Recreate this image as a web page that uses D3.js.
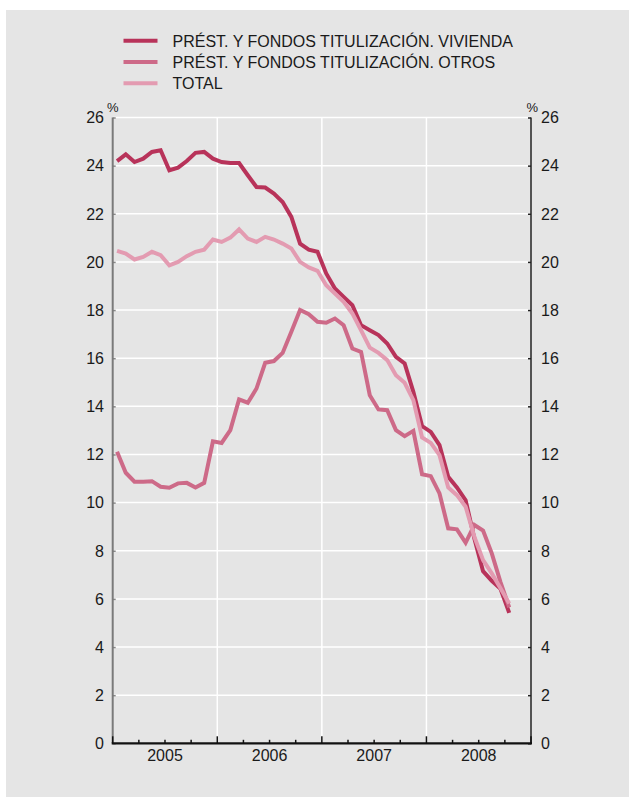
<!DOCTYPE html>
<html>
<head>
<meta charset="utf-8">
<script src="https://cdn.jsdelivr.net/npm/d3@7"></script>
<style>
  body { margin: 0; background: #fff; }
  text { font-family: "Liberation Sans", Arial, sans-serif; fill: #1a1a1a; }
</style>
</head>
<body>
<script>
let width = 629;
let height = 797;

// monthly data, Jan 2005 - Oct 2008
let years = ['2005', '2006', '2007', '2008'];
let vivienda = [24.19, 24.47, 24.15, 24.29, 24.57, 24.64, 23.81, 23.92, 24.19, 24.53, 24.57, 24.29,
  24.15, 24.11, 24.11, 23.6, 23.11, 23.09, 22.84, 22.49, 21.87, 20.76, 20.51, 20.42,
  19.52, 18.9, 18.55, 18.2, 17.37, 17.16, 16.96, 16.61, 16.06, 15.78, 14.6, 13.18,
  12.94, 12.39, 11.07, 10.63, 10.1, 8.51, 7.15, 6.75, 6.42, 5.42];
let otros = [12.11, 11.24, 10.87, 10.87, 10.89, 10.66, 10.62, 10.8, 10.82, 10.63, 10.82, 12.55,
  12.48, 13.01, 14.29, 14.15, 14.74, 15.81, 15.88, 16.22, 17.1, 18.0, 17.83, 17.51,
  17.47, 17.65, 17.37, 16.4, 16.26, 14.46, 13.87, 13.84, 13.01, 12.76, 12.98, 11.18,
  11.1, 10.38, 8.93, 8.89, 8.33, 9.07, 8.84, 7.89, 6.7, 5.65];
let total = [20.46, 20.35, 20.1, 20.21, 20.42, 20.28, 19.86, 20.0, 20.24, 20.42, 20.51, 20.93,
  20.83, 21.01, 21.35, 20.97, 20.83, 21.04, 20.93, 20.76, 20.56, 20.0, 19.77, 19.63,
  19.03, 18.69, 18.34, 17.86, 17.16, 16.44, 16.22, 15.92, 15.29, 14.98, 14.26, 12.71,
  12.48, 11.97, 10.63, 10.31, 9.83, 8.58, 7.61, 7.06, 6.44, 5.81];
let yTicks = [0, 2, 4, 6, 8, 10, 12, 14, 16, 18, 20, 22, 24, 26];
let seriesNames = ['PRÉST. Y FONDOS TITULIZACIÓN. VIVIENDA', 'PRÉST. Y FONDOS TITULIZACIÓN. OTROS', 'TOTAL'];
let seriesColors = ['#b8335a', '#cd6a88', '#e39bb1'];

let svg = d3.select('body').append('svg').attr('width', width).attr('height', height);

svg.append('rect').attr('x', 6).attr('y', 10).attr('width', width - 6).attr('height', height - 10).attr('fill', '#e5e5e5');

let plotLeft = 112.7, plotRight = 531, plotTop = 117.5, plotBottom = 743.3;
let xScale = d3.scaleLinear().domain([0, 48]).range([plotLeft, plotRight]);
let yScale = d3.scaleLinear().domain([0, 26]).range([plotBottom, plotTop]);

// grid
svg.append('g').selectAll('line').data(yTicks.slice(1)).enter().append('line')
  .attr('x1', plotLeft).attr('x2', plotRight).attr('y1', d => yScale(d)).attr('y2', d => yScale(d))
  .attr('stroke', '#fff').attr('stroke-width', 1.5);
svg.append('g').selectAll('line').data([12, 24, 36]).enter().append('line')
  .attr('x1', d => xScale(d)).attr('x2', d => xScale(d)).attr('y1', plotTop).attr('y2', plotBottom)
  .attr('stroke', '#fff').attr('stroke-width', 1.5);

// left axis
let leftAxis = d3.axisRight(yScale).tickValues(yTicks).tickSize(3).tickFormat('');
let la = svg.append('g').attr('transform', 'translate(' + plotLeft + ',0)').call(leftAxis);
la.select('.domain').remove();
la.selectAll('line').attr('stroke', '#888').attr('stroke-width', 1.5);
svg.append('line').attr('x1', plotLeft).attr('x2', plotLeft).attr('y1', plotTop).attr('y2', plotBottom).attr('stroke', '#7a7a7a').attr('stroke-width', 2);
svg.append('g').selectAll('text').data(yTicks).enter().append('text')
  .attr('x', 104).attr('y', d => yScale(d)).attr('dy', '0.36em').attr('text-anchor', 'end')
  .style('font-size', '16px').text(d => d);

// right axis
let rightAxis = d3.axisLeft(yScale).tickValues(yTicks).tickSize(3).tickFormat('');
let ra = svg.append('g').attr('transform', 'translate(' + plotRight + ',0)').call(rightAxis);
ra.select('.domain').remove();
ra.selectAll('line').attr('stroke', '#222').attr('stroke-width', 1.5);
svg.append('line').attr('x1', plotRight).attr('x2', plotRight).attr('y1', plotTop).attr('y2', plotBottom).attr('stroke', '#222').attr('stroke-width', 1.5);
svg.append('g').selectAll('text').data(yTicks).enter().append('text')
  .attr('x', 541).attr('y', d => yScale(d)).attr('dy', '0.36em')
  .style('font-size', '16px').text(d => d);

svg.append('text').attr('x', 107).attr('y', 111.5).style('font-size', '13px').text('%');
svg.append('text').attr('x', 526.5).attr('y', 111.5).style('font-size', '13px').text('%');

// bottom axis
let months = d3.range(0, 49, 3);
svg.append('g').selectAll('line').data(months).enter().append('line')
  .attr('x1', d => xScale(d)).attr('x2', d => xScale(d))
  .attr('y1', plotBottom).attr('y2', d => d % 12 == 0 ? plotBottom - 7 : plotBottom - 3.5)
  .attr('stroke', '#111').attr('stroke-width', 1.5);
svg.append('line').attr('x1', plotLeft - 1).attr('x2', plotRight + 1).attr('y1', plotBottom).attr('y2', plotBottom).attr('stroke', '#111').attr('stroke-width', 2.2);
svg.append('g').selectAll('text').data(years).enter().append('text')
  .attr('x', (d, i) => xScale(i * 12 + 6)).attr('y', 761).attr('text-anchor', 'middle')
  .style('font-size', '16px').text(d => d);

// lines
let lineFunc = d3.line().x((d, i) => xScale(i + 0.5)).y(d => yScale(d));
[vivienda, otros, total].forEach((s, k) => {
  svg.append('path').attr('d', lineFunc(s)).attr('fill', 'none')
    .attr('stroke', seriesColors[k]).attr('stroke-width', 4).attr('stroke-linejoin', 'miter');
});

// legend
let legend = svg.append('g').selectAll('g').data(seriesNames).enter().append('g')
  .attr('transform', (d, i) => 'translate(0,' + (40.7 + i * 21.3) + ')');
legend.append('line').attr('x1', 123.5).attr('x2', 157.5).attr('y1', 0).attr('y2', 0)
  .attr('stroke', (d, i) => seriesColors[i]).attr('stroke-width', 4);
legend.append('text').attr('x', 172.5).attr('y', 6).style('font-size', '16px').text(d => d);
</script>
</body>
</html>
